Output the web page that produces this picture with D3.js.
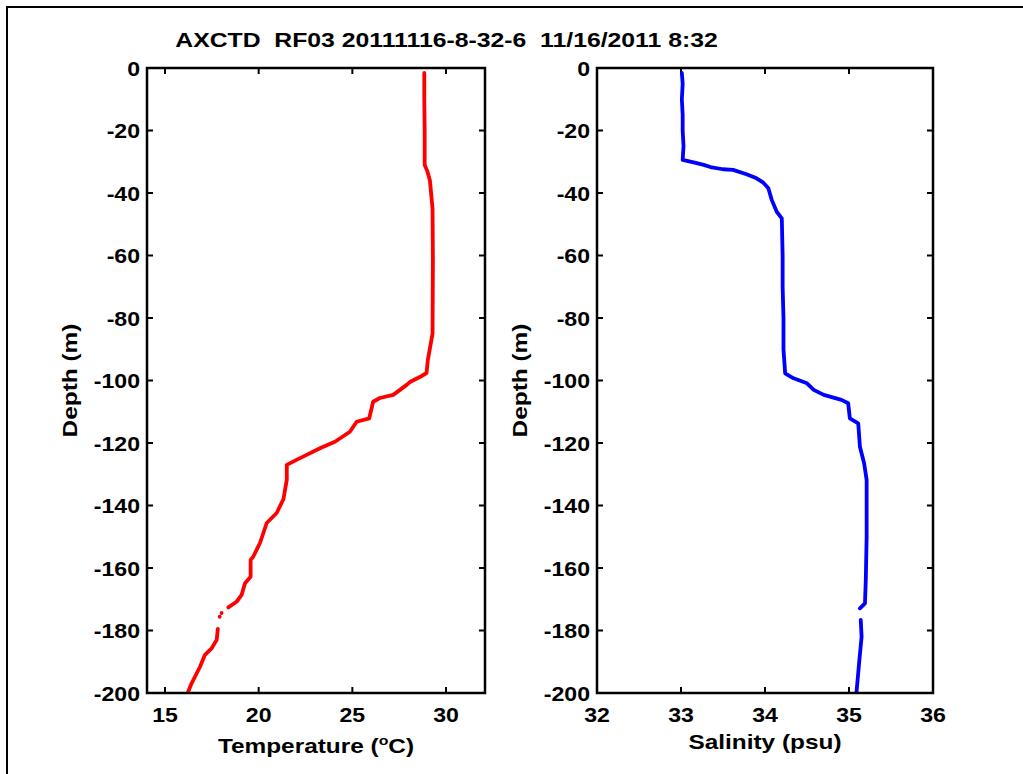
<!DOCTYPE html>
<html><head><meta charset="utf-8">
<script src="https://cdn.jsdelivr.net/npm/d3@7"></script>
<style>
html,body{margin:0;padding:0;background:#fff;}
svg text{font-family:"Liberation Sans",Arial,sans-serif;font-weight:bold;fill:#000;}
</style></head>
<body>
<svg id="c" width="1023" height="774"></svg>
<script>
const titleText = "AXCTD  RF03 20111116-8-32-6  11/16/2011 8:32";
const depthTicks = [0,-20,-40,-60,-80,-100,-120,-140,-160,-180,-200];
const tempTicks = [15,20,25,30];
const salTicks = [32,33,34,35,36];

// Temperature profile (depth m, temp °C); null = gap
const tempDepth = [-1.6,-10,-20,-31,-33,-36,-45,-61,-85,-93.4,-97.6,-98.9,-100.5,-101.4,-103,-104.6,-105.6,-106.8,-112.1,-113.2,-116.4,-119.6,-121.7,-123.8,-125.4,-127,-131.8,-138,-142.4,-145.6,-148.8,-152,-156.4,-157.4,-162.8,-164.9,-168.6,-170.8,-172.6,-173.5,-179.5,-183,-185.7,-187.8,-191.6,-194.8,-196.9,-199.6];
const tempVal   = [28.84,28.84,28.86,28.86,29.0,29.14,29.28,29.3,29.28,29.03,28.96,28.6,28.07,27.9,27.54,27.18,26.47,26.11,25.9,25.23,24.87,24.07,23.27,22.56,22.02,21.5,21.5,21.32,20.96,20.43,20.25,20.07,19.71,19.57,19.57,19.27,19.09,18.82,18.38,null,17.82,17.76,17.49,17.13,16.87,16.6,16.42,16.24];
const tempDotDepth = [-174.4,-175.6];
const tempDotVal   = [18.02,17.92];

// Salinity profile (depth m, salinity psu); null = gap
const salDepth = [-1.6,-5,-10,-15,-20,-25,-29.4,-30.2,-31,-31.7,-32.4,-32.6,-34,-35.3,-36.7,-38.5,-42.2,-46,-48.1,-60,-70,-80,-90,-97.7,-99.3,-100.9,-103,-104.6,-106.2,-107.3,-112.1,-113.7,-121.2,-126.5,-131.8,-150,-163.8,-171.3,-172.9,-174.5,-176.6,-182,-190.5,-199.6];
const salVal   = [33.01,33.02,33.01,33.02,33.02,33.03,33.02,33.15,33.27,33.35,33.5,33.62,33.78,33.90,33.98,34.04,34.08,34.14,34.20,34.21,34.21,34.22,34.22,34.24,34.34,34.50,34.58,34.70,34.91,34.99,35.01,35.11,35.13,35.18,35.21,35.21,35.20,35.19,35.13,null,35.14,35.15,35.12,35.09];

const svg = d3.select("#c");

// outer frame
svg.append("path").attr("d","M7,774 L7,7 L1023,7").attr("fill","none").attr("stroke","#000").attr("stroke-width",2);

function txt(parent, x, y, size, sx, anchor, rot) {
  return parent.append("text")
    .attr("transform", `translate(${x},${y})` + (rot ? ` rotate(${rot})` : "") + ` scale(${sx},1)`)
    .attr("text-anchor", anchor).style("font-size", size + "px");
}

txt(svg, 446.5, 47, 21, 1.18, "middle").style("white-space","pre").text(titleText);

const yTop = 68, yBottom = 693;
const y = d3.scaleLinear().domain([0,-200]).range([yTop,yBottom]);

function panel(x0, x1, domain, xticks, depth, vals, color, xlabelFn, labelBaseline, dots) {
  const x = d3.scaleLinear().domain(domain).range([x0,x1]);
  const g = svg.append("g");
  const tl = 6;
  const ticks = g.append("g").attr("stroke","#000").attr("stroke-width",2);
  xticks.forEach(t=>{
    ticks.append("line").attr("x1",x(t)).attr("x2",x(t)).attr("y1",yBottom).attr("y2",yBottom-tl);
    ticks.append("line").attr("x1",x(t)).attr("x2",x(t)).attr("y1",yTop).attr("y2",yTop+tl);
  });
  depthTicks.forEach(t=>{
    ticks.append("line").attr("x1",x0).attr("x2",x0+tl).attr("y1",y(t)).attr("y2",y(t));
    ticks.append("line").attr("x1",x1).attr("x2",x1-tl).attr("y1",y(t)).attr("y2",y(t));
  });
  const pts = depth.map((d,i)=>[vals[i], d]);
  const line = d3.line().defined(p=>p[0]!==null).x(p=>x(p[0])).y(p=>y(p[1]));
  g.append("path").attr("d", line(pts)).attr("fill","none").attr("stroke",color)
    .attr("stroke-width",3.8).attr("stroke-linejoin","round").attr("stroke-linecap","round");
  if (dots) {
    dots[0].forEach((d,i)=>{
      g.append("circle").attr("cx",x(dots[1][i])).attr("cy",y(d)).attr("r",1.9).attr("fill",color);
    });
  }
  g.append("rect").attr("x",x0).attr("y",yTop).attr("width",x1-x0).attr("height",yBottom-yTop)
    .attr("fill","none").attr("stroke","#000").attr("stroke-width",2.5);
  xticks.forEach(t=>{
    txt(g, x(t), 722, 21, 1.1, "middle").text(t);
  });
  depthTicks.forEach(t=>{
    txt(g, x0-7, y(t)+7.5, 21, 1.1, "end").text(t);
  });
  txt(g, x0-70, (yTop+yBottom)/2, 20, 1.22, "middle", -90).text("Depth (m)");
  xlabelFn(txt(g, (x0+x1)/2, labelBaseline, 20, 1.22, "middle"));
}

panel(147, 485, [14.04, 32.08], tempTicks, tempDepth, tempVal, "#ff0000", t=>{
  t.append("tspan").text("Temperature (");
  t.append("tspan").attr("dy",-8).style("font-size","13px").text("o");
  t.append("tspan").attr("dy",8).text("C)");
}, 753, [tempDotDepth, tempDotVal]);

panel(597, 933, [32, 36], salTicks, salDepth, salVal, "#0000ff", t=>{
  t.text("Salinity (psu)");
}, 749, null);
</script>
</body></html>
